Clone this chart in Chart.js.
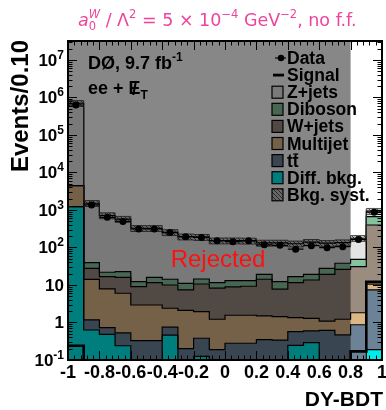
<!DOCTYPE html>
<html>
<head>
<meta charset="utf-8">
<script src="https://cdn.jsdelivr.net/npm/chart.js@4.4.0/dist/chart.umd.min.js"></script>
<style>
  html, body { margin: 0; padding: 0; background: #fff; }
</style>
</head>
<body>
<canvas id="c" width="386" height="410"></canvas>
<script>
// DY-BDT distribution, 20 bins of 0.1
const binEdges = [-1, -0.9, -0.8, -0.7, -0.6, -0.5, -0.4, -0.3, -0.2, -0.1, 0, 0.1, 0.2, 0.3, 0.4, 0.5, 0.6, 0.7, 0.8, 0.9, 1];
const binCenters = [-0.95, -0.85, -0.75, -0.65, -0.55, -0.45, -0.35, -0.25, -0.15, -0.05, 0.05, 0.15, 0.25, 0.35, 0.45, 0.55, 0.65, 0.75, 0.85, 0.95];

// stacked backgrounds, bottom to top
const diffBkg  = [1220, 0.63, 0.48, 0.24, 0, 0, 0.46, 0, 0.125, 0, 0, 0, 0, 0, 0.245, 0.29, 0, 0, 0, 0.19];
const ttbar    = [3, 0.54, 0.25, 0.29, 0.33, 0.33, 0.29, 0.2, 0.255, 0.19, 0.28, 0.28, 0.35, 0.34, 0.325, 0.31, 0.62, 0.47, 0.87, 7.2];
const multijet = [3230, 13.0, 7.1, 5.5, 2.6, 2.6, 1.65, 1.9, 1.56, 1.03, 1.28, 1.28, 1.15, 1.09, 0.78, 0.69, 0.47, 0.75, 0.95, 3.2];
const wjets    = [25, 13.7, 8.9, 10.0, 6.1, 8.6, 7.6, 5.3, 8.7, 7.0, 7.4, 7.7, 12.7, 6.3, 10.2, 12.3, 18.2, 24.9, 28.9, 387];
const diboson  = [10, 11.5, 5.1, 6.6, 3.2, 4.5, 4.2, 3.6, 3.8, 3.3, 4.1, 3.8, 5.1, 4.5, 5.2, 5.7, 8.6, 11.9, 17.7, 265];
const zjets    = [695500, 1470, 690, 548, 313, 309, 239, 183, 174, 140, 139, 137, 113, 120, 109, 119, 102, 97, 128, 267];

const signal     = [0.24, 0, 0, 0, 0, 0, 0, 0, 0, 0, 0, 0, 0, 0, 0, 0, 0, 0, 0.17, 12.2];
const dataCounts = [630000, 1360, 638, 495, 311, 311, 250, 194, 185, 152, 143, 152, 118, 114, 90, 112, 99, 105, 162, 870];
const bkgSystFrac = 0.18;

const xTickValues = [-1, -0.8, -0.6, -0.4, -0.2, 0, 0.2, 0.4, 0.6, 0.8, 1];
const xTickLabels = ['-1', '-0.8', '-0.6', '-0.4', '-0.2', '0', '0.2', '0.4', '0.6', '0.8', '1'];
const yTickExps = [-1, 0, 1, 2, 3, 4, 5, 6, 7];
const rejectedUpTo = 0.8;

const colors = {
  diff: '#00ecec', tt: '#6c8397', mj: '#dcb786', wj: '#9a8d80', db: '#86c29e', zj: '#e4e4e4'
};

const FLOOR = 1e-3; // below the axis, log scale can't take 0
const canvas = document.getElementById('c');
const ctx0 = canvas.getContext('2d');

function makeHatch() {
  const t = document.createElement('canvas');
  t.width = t.height = 4;
  const g = t.getContext('2d');
  g.fillStyle = '#c4c4c4';
  g.fillRect(0, 0, 4, 4);
  g.strokeStyle = '#4a4a4a';
  g.lineWidth = 1;
  g.beginPath();
  g.moveTo(-1, -1); g.lineTo(5, 5);
  g.moveTo(-1, 3); g.lineTo(1, 5);
  g.moveTo(3, -1); g.lineTo(5, 1);
  g.stroke();
  return ctx0.createPattern(t, 'repeat');
}
const hatch = makeHatch();

function steps(vals) {
  const pts = vals.map((v, i) => ({ x: binEdges[i], y: Math.max(v, FLOOR) }));
  pts.push({ x: binEdges[binEdges.length - 1], y: Math.max(vals[vals.length - 1], FLOOR) });
  return pts;
}

const stack = [
  { label: 'Diff. bkg.', vals: diffBkg, color: colors.diff },
  { label: 'tt', vals: ttbar, color: colors.tt },
  { label: 'Multijet', vals: multijet, color: colors.mj },
  { label: 'W+jets', vals: wjets, color: colors.wj },
  { label: 'Diboson', vals: diboson, color: colors.db },
  { label: 'Z+jets', vals: zjets, color: colors.zj }
];

let running = binCenters.map(() => 0);
const cumulative = stack.map(s => {
  running = running.map((v, i) => v + s.vals[i]);
  return running.slice();
});
const total = cumulative[cumulative.length - 1];

const datasets = stack.map((s, i) => ({
  label: s.label,
  data: steps(cumulative[i]),
  stepped: true,
  fill: i === 0 ? 'start' : '-1',
  backgroundColor: s.color,
  borderColor: '#000',
  borderWidth: 1.2,
  pointRadius: 0,
  order: 20 - i
}));

datasets.push({
  label: 'syst low',
  data: steps(total.map(v => v * (1 - bkgSystFrac))),
  stepped: true, fill: false,
  borderColor: '#333', borderWidth: 0.8, pointRadius: 0, order: 14
});
datasets.push({
  label: 'Bkg. syst.',
  data: steps(total.map(v => v * (1 + bkgSystFrac))),
  stepped: true, fill: '-1',
  backgroundColor: hatch,
  borderColor: '#333', borderWidth: 0.8, pointRadius: 0, order: 13
});
datasets.push({
  label: 'Signal',
  data: steps(signal),
  stepped: true, fill: false,
  borderColor: '#000', borderWidth: 2.6, pointRadius: 0, order: 12
});
datasets.push({
  label: 'Data',
  data: binCenters.map((x, i) => ({ x, y: dataCounts[i] })),
  showLine: false,
  pointRadius: 3.5,
  pointBackgroundColor: '#000',
  pointBorderWidth: 0,
  order: 11
});

const FONT = '"Liberation Sans", Arial, sans-serif';

function rich(ctx, x, y, parts, align) {
  const fontOf = p => `${p.italic ? 'italic ' : ''}${p.bold === false ? '' : 'bold '}${p.size}px ${p.family || FONT}`;
  let w = 0;
  parts.forEach(p => {
    ctx.font = fontOf(p);
    p._w = ctx.measureText(p.t).width;
    if (!p.noAdv) w += p._w;
  });
  let cx = align === 'right' ? x - w : align === 'center' ? x - w / 2 : x;
  ctx.textAlign = 'left';
  parts.forEach(p => {
    ctx.font = fontOf(p);
    ctx.fillText(p.t, cx, y + (p.dy || 0));
    if (!p.noAdv) cx += p._w;
  });
  return w;
}

function drawLegend(ctx) {
  const rows = [
    { kind: 'data', label: 'Data' },
    { kind: 'line', label: 'Signal' },
    { kind: 'box', color: colors.zj, label: 'Z+jets' },
    { kind: 'box', color: colors.db, label: 'Diboson' },
    { kind: 'box', color: colors.wj, label: 'W+jets' },
    { kind: 'box', color: colors.mj, label: 'Multijet' },
    { kind: 'box', color: colors.tt, label: 'tt', bar: true },
    { kind: 'box', color: colors.diff, label: 'Diff. bkg.' },
    { kind: 'box', color: hatch, label: 'Bkg. syst.' }
  ];
  const bx = 272, tx = 287;
  ctx.font = `bold 17.5px ${FONT}`;
  ctx.textAlign = 'left';
  ctx.textBaseline = 'alphabetic';
  rows.forEach((r, i) => {
    const yc = 58 + i * 17.1;
    ctx.fillStyle = '#000';
    ctx.strokeStyle = '#000';
    if (r.kind === 'data') {
      ctx.lineWidth = 1.2;
      ctx.beginPath(); ctx.moveTo(275, yc); ctx.lineTo(286, yc); ctx.stroke();
      ctx.beginPath(); ctx.arc(281, yc, 3.2, 0, Math.PI * 2); ctx.fill();
    } else if (r.kind === 'line') {
      ctx.lineWidth = 2.8;
      ctx.beginPath(); ctx.moveTo(273, yc); ctx.lineTo(284, yc); ctx.stroke();
    } else {
      ctx.fillStyle = r.color;
      ctx.fillRect(bx, yc - 6, 11, 12);
      ctx.lineWidth = 1.2;
      ctx.strokeRect(bx, yc - 6, 11, 12);
    }
    ctx.fillStyle = '#000';
    ctx.fillText(r.label, tx, yc + 6);
    if (r.bar) {
      const tw = ctx.measureText('t').width;
      ctx.lineWidth = 1.4;
      ctx.beginPath();
      ctx.moveTo(tx + tw + 0.5, yc - 6.5); ctx.lineTo(tx + 2 * tw - 0.5, yc - 6.5);
      ctx.stroke();
    }
  });
}

const decor = {
  id: 'decor',
  afterDatasetsDraw(chart) {
    const { ctx, chartArea: a, scales: { x, y } } = chart;
    ctx.save();

    // data error bars
    ctx.strokeStyle = '#000';
    ctx.lineWidth = 1.2;
    dataCounts.forEach((n, i) => {
      const py = y.getPixelForValue(n);
      const x0 = x.getPixelForValue(binEdges[i]), x1 = x.getPixelForValue(binEdges[i + 1]);
      const e = Math.sqrt(n);
      ctx.beginPath();
      ctx.moveTo(x0, py); ctx.lineTo(x1, py);
      ctx.moveTo((x0 + x1) / 2, y.getPixelForValue(n + e));
      ctx.lineTo((x0 + x1) / 2, y.getPixelForValue(Math.max(n - e, FLOOR)));
      ctx.stroke();
    });

    drawLegend(ctx);

    // rejected region shade
    const xr = x.getPixelForValue(rejectedUpTo);
    ctx.fillStyle = 'rgba(0,0,0,0.47)';
    ctx.fillRect(a.left, a.top, xr - a.left, a.bottom - a.top);

    ctx.fillStyle = '#ff1010';
    ctx.font = `24px ${FONT}`;
    ctx.textAlign = 'center';
    ctx.fillText('Rejected', 218, 267);

    // frame and ticks (inside)
    ctx.strokeStyle = '#000';
    ctx.lineWidth = 1;
    ctx.beginPath();
    for (let e = -1; e <= 7; e++) {
      for (let m = 1; m <= 9; m++) {
        const v = m * Math.pow(10, e);
        if (v < y.min || v > y.max) continue;
        const py = Math.round(y.getPixelForValue(v)) + 0.5;
        const len = m === 1 ? 9 : 4.5;
        ctx.moveTo(a.left, py); ctx.lineTo(a.left + len, py);
        ctx.moveTo(a.right, py); ctx.lineTo(a.right - len, py);
      }
    }
    for (let k = 0; k <= 50; k++) {
      const v = -1 + k * 0.04;
      const px = Math.round(x.getPixelForValue(v)) + 0.5;
      const len = k % 5 === 0 ? 9 : 4.5;
      ctx.moveTo(px, a.bottom); ctx.lineTo(px, a.bottom - len);
      ctx.moveTo(px, a.top); ctx.lineTo(px, a.top + len);
    }
    ctx.stroke();
    ctx.lineWidth = 2;
    ctx.strokeRect(a.left, a.top, a.right - a.left, a.bottom - a.top);

    // tick labels
    ctx.fillStyle = '#000';
    ctx.textBaseline = 'alphabetic';
    ctx.font = `bold 18px ${FONT}`;
    ctx.textAlign = 'center';
    xTickValues.forEach((v, i) => {
      ctx.fillText(xTickLabels[i], x.getPixelForValue(v), 378);
    });
    yTickExps.forEach(e => {
      const py = y.getPixelForValue(Math.pow(10, e)) + 6;
      let parts;
      if (e === 0) parts = [{ t: '1', size: 17 }];
      else if (e === 1) parts = [{ t: '10', size: 17 }];
      else parts = [{ t: '10', size: 17 }, { t: String(e), size: 12, dy: -7 }];
      rich(ctx, 64, py, parts, 'right');
    });

    // axis titles
    ctx.font = `bold 21px ${FONT}`;
    ctx.textAlign = 'right';
    ctx.fillText('DY-BDT', 383, 406);
    ctx.save();
    ctx.translate(28, 40);
    ctx.rotate(-Math.PI / 2);
    ctx.font = `bold 24px ${FONT}`;
    ctx.textAlign = 'right';
    ctx.fillText('Events/0.10', 0, 0);
    ctx.restore();

    // experiment label
    rich(ctx, 88, 69, [{ t: 'DØ, 9.7 fb', size: 18 }, { t: '-1', size: 12, dy: -8 }], 'left');
    const w1 = rich(ctx, 88, 94, [{ t: 'ee + ', size: 18 }], 'left');
    ctx.font = `bold 18px ${FONT}`;
    ctx.textAlign = 'left';
    const wE = ctx.measureText('E').width;
    ctx.fillText('E', 88 + w1, 94);
    const wS = ctx.measureText('/').width;
    ctx.fillText('/', 88 + w1 + (wE - wS) / 2, 95);
    ctx.font = `bold 12px ${FONT}`;
    ctx.fillText('T', 88 + w1 + wE, 99);

    // title
    const tf = '"DejaVu Sans", sans-serif';
    const title = [
      { t: 'a', size: 17.5, italic: true, bold: false, family: tf },
      { t: '0', size: 11.5, dy: 4, bold: false, family: tf, noAdv: true },
      { t: 'W', size: 11.5, dy: -8, italic: true, bold: false, family: tf },
      { t: ' / Λ', size: 17.5, bold: false, family: tf },
      { t: '2', size: 11.5, dy: -8, bold: false, family: tf },
      { t: ' = 5 × 10', size: 17.5, bold: false, family: tf },
      { t: '−4', size: 11.5, dy: -8, bold: false, family: tf },
      { t: ' GeV', size: 17.5, bold: false, family: tf },
      { t: '−2', size: 11.5, dy: -8, bold: false, family: tf },
      { t: ', no f.f.', size: 17.5, bold: false, family: tf }
    ];
    ctx.fillStyle = '#ee449c';
    rich(ctx, 78, 26, title, 'left');

    ctx.restore();
  }
};

new Chart(canvas, {
  type: 'line',
  data: { datasets },
  options: {
    responsive: false,
    animation: false,
    devicePixelRatio: 1,
    layout: { padding: { left: 68, right: 3, top: 41, bottom: 50 } },
    scales: {
      x: { type: 'linear', min: -1, max: 1, display: false },
      y: { type: 'logarithmic', min: 0.1, max: 3.2e7, display: false }
    },
    plugins: {
      legend: { display: false },
      tooltip: { enabled: false },
      filler: { drawTime: 'beforeDatasetsDraw' }
    }
  },
  plugins: [decor]
});
</script>
</body>
</html>
